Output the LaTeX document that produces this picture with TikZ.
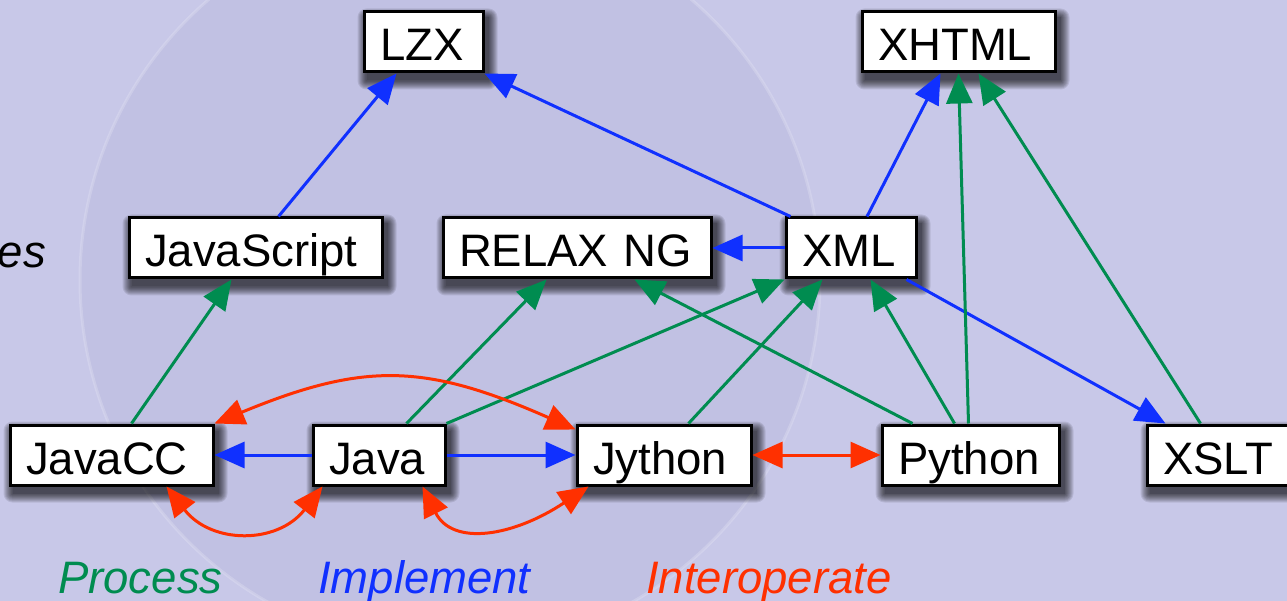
\documentclass[tikz,border=0pt]{standalone}
\usepackage{fontspec}
\setmainfont{Liberation Sans}
\usetikzlibrary{arrows.meta}
\definecolor{bgout}{RGB}{200,200,232}
\definecolor{bgin}{RGB}{193,193,227}
\definecolor{procG}{RGB}{0,140,80}
\definecolor{implB}{RGB}{16,48,255}
\definecolor{interR}{RGB}{255,48,0}
\pgfdeclarelayer{bglayer}
\pgfdeclarelayer{shadowlayer}
\pgfsetlayers{bglayer,shadowlayer,main}
\newcommand\boxshadow[1]{%
  \foreach \i in {0,...,9}{%
    \fill[black,opacity=0.09,rounded corners=\i pt]
      ([xshift={(4-\i)*1pt},yshift={(-7+\i)*1pt}]#1.north west) rectangle
      ([xshift={(4+\i)*1pt},yshift={(-7-\i)*1pt}]#1.south east);
  }}
\begin{document}
\begin{tikzpicture}[x=1pt,y=-1pt,
  lbl/.style={draw=black, line width=3pt, fill=white, inner xsep=16pt, inner ysep=0pt,
    minimum height=60pt, text height=38pt, text depth=0pt, align=left,
    font=\fontsize{45.5}{50}\selectfont},
  legendtext/.style={inner sep=0pt, font=\fontsize{45.5}{50}\selectfont\itshape},
  proc/.style={draw=procG, line width=3pt, -{Triangle[length=30pt,width=26pt]}},
  impl/.style={draw=implB, line width=3pt, -{Triangle[length=30pt,width=26pt]}},
  inter/.style={draw=interR, line width=3pt, {Triangle[length=30pt,width=26pt]}-{Triangle[length=30pt,width=26pt]}}
]
\useasboundingbox (0,0) rectangle (1287,601);
\begin{pgfonlayer}{bglayer}
  \fill[bgout] (0,0) rectangle (1287,601);
  \fill[bgin] (450,280) circle (370pt);
  \draw[white, opacity=0.18, line width=3pt] (450,280) circle (370pt);
\end{pgfonlayer}

% nodes
\node[lbl, text width=87pt]  (LZX)   at (423.5,42) {LZX};
\node[lbl, text width=161pt] (XHTML) at (958.5,42) {XHTML};
\node[lbl, text width=221pt] (JS)    at (255.5,248) {JavaScript};
\node[lbl, text width=236pt] (RNG)   at (577,248) {RELAX NG};
\node[lbl, text width=98pt]  (XML)   at (851,248) {XML};
\node[lbl, text width=171pt] (JCC)   at (111.5,455) {JavaCC};
\node[lbl, text width=100pt] (Java)  at (379,455) {Java};
\node[lbl, text width=142pt] (Jy)    at (664,455) {Jython};
\node[lbl, text width=145pt] (Py)    at (970.5,455) {Python};
\node[lbl, text width=118pt] (XSLT)  at (1222,455) {XSLT};

\begin{pgfonlayer}{shadowlayer}
  \boxshadow{LZX}\boxshadow{XHTML}\boxshadow{JS}\boxshadow{RNG}\boxshadow{XML}
  \boxshadow{JCC}\boxshadow{Java}\boxshadow{Jy}\boxshadow{Py}\boxshadow{XSLT}
\end{pgfonlayer}

% implement (blue)
\draw[impl] ([xshift=151pt]JS.north west) -- ([xshift=34pt]LZX.south west);
\draw[impl] ([xshift=6pt]XML.north west) -- (LZX.south east);
\draw[impl] (XML.west) -- (RNG.east);
\draw[impl] ([xshift=16pt]XML.north) -- ([xshift=80pt]XHTML.south west);
\draw[impl] ([xshift=-11pt]XML.south east) -- ([xshift=20pt]XSLT.north west);
\draw[impl] (Java.west) -- (JCC.east);
\draw[impl] (Java.east) -- (Jy.west);

% process (green)
\draw[proc] ([xshift=123pt]JCC.north west) -- ([xshift=104pt]JS.south west);
\draw[proc] ([xshift=95pt]Java.north west) -- ([xshift=105pt]RNG.south west);
\draw[proc] (Java.north east) -- (XML.south west);
\draw[proc] ([xshift=113pt]Jy.north west) -- ([xshift=38pt]XML.south west);
\draw[proc] ([xshift=32pt]Py.north west) -- ([xshift=193pt]RNG.south west);
\draw[proc] ([xshift=74pt]Py.north west) -- ([xshift=86pt]XML.south west);
\draw[proc] ([xshift=88pt]Py.north west) -- ([xshift=98pt]XHTML.south west);
\draw[proc] ([xshift=55pt]XSLT.north west) -- ([xshift=118pt]XHTML.south west);

% interoperate (red)
\draw[inter] (JCC.north east) .. controls +(150,-62) and +(-150,-66) .. ([yshift=-6pt]Jy.north west);
\draw[inter] ([xshift=158pt]JCC.south west) .. controls +(45,58) and +(-45,58) .. ([xshift=11pt]Java.south west);
\draw[inter] ([xshift=111pt]Java.south west) .. controls +(30,60) and +(-75,50) .. ([xshift=13pt]Jy.south west);
\draw[inter] (Jy.east) -- (Py.west);

% texts
\node[legendtext, text=black, anchor=base east] (es) at (46,268) {es};
\node[legendtext, text=procG, anchor=base west] (lproc) at (58,593) {Process};
\node[legendtext, text=implB, anchor=base west] (limpl) at (318,593) {Implement};
\node[legendtext, text=interR, anchor=base west] (linter) at (646,593) {Interoperate};
\end{tikzpicture}
\end{document}
